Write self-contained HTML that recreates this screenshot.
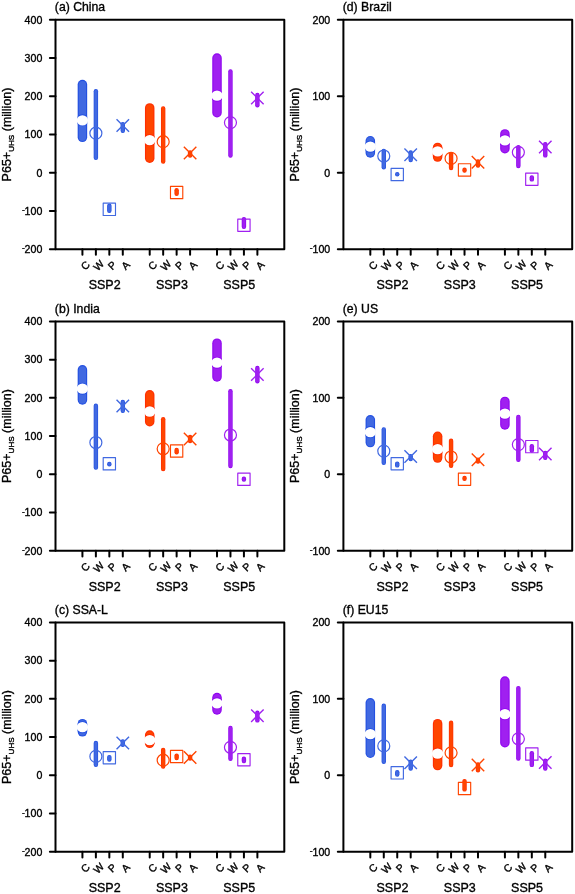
<!DOCTYPE html>
<html><head><meta charset="utf-8"><style>
html,body{margin:0;padding:0;background:#fff;}
body{width:575px;height:894px;overflow:hidden;}
svg{display:block;will-change:transform;}
text{font-family:"Liberation Sans",sans-serif;fill:#000;stroke:#000;stroke-width:0.35px;}
</style></head><body>
<svg width="575" height="894" viewBox="0 0 575 894">
<rect x="55.5" y="19.8" width="228.8" height="229.4" fill="none" stroke="#000" stroke-width="2" stroke-linejoin="round"/>
<line x1="49.9" y1="19.8" x2="55.5" y2="19.8" stroke="#000" stroke-width="2" stroke-linecap="round"/>
<text x="42.3" y="23.65" font-size="10.6" text-anchor="end">400</text>
<line x1="49.9" y1="58.03" x2="55.5" y2="58.03" stroke="#000" stroke-width="2" stroke-linecap="round"/>
<text x="42.3" y="61.88" font-size="10.6" text-anchor="end">300</text>
<line x1="49.9" y1="96.27" x2="55.5" y2="96.27" stroke="#000" stroke-width="2" stroke-linecap="round"/>
<text x="42.3" y="100.12" font-size="10.6" text-anchor="end">200</text>
<line x1="49.9" y1="134.5" x2="55.5" y2="134.5" stroke="#000" stroke-width="2" stroke-linecap="round"/>
<text x="42.3" y="138.35" font-size="10.6" text-anchor="end">100</text>
<line x1="49.9" y1="172.73" x2="55.5" y2="172.73" stroke="#000" stroke-width="2" stroke-linecap="round"/>
<text x="42.3" y="176.58" font-size="10.6" text-anchor="end">0</text>
<line x1="49.9" y1="210.97" x2="55.5" y2="210.97" stroke="#000" stroke-width="2" stroke-linecap="round"/>
<text x="42.3" y="214.82" font-size="10.6" text-anchor="end"><tspan font-size="8.5" dy="-1.9">-</tspan><tspan dy="1.9" dx="-0.2">100</tspan></text>
<line x1="49.9" y1="249.2" x2="55.5" y2="249.2" stroke="#000" stroke-width="2" stroke-linecap="round"/>
<text x="42.3" y="253.05" font-size="10.6" text-anchor="end"><tspan font-size="8.5" dy="-1.9">-</tspan><tspan dy="1.9" dx="-0.2">200</tspan></text>
<line x1="82.42" y1="249.2" x2="82.42" y2="254.8" stroke="#000" stroke-width="2" stroke-linecap="round"/>
<text x="85.02" y="265.2" font-size="10.5" text-anchor="middle" dominant-baseline="central" transform="rotate(-45 85.02 265.2)">C</text>
<line x1="95.88" y1="249.2" x2="95.88" y2="254.8" stroke="#000" stroke-width="2" stroke-linecap="round"/>
<text x="98.48" y="265.2" font-size="10.5" text-anchor="middle" dominant-baseline="central" transform="rotate(-45 98.48 265.2)">W</text>
<line x1="109.34" y1="249.2" x2="109.34" y2="254.8" stroke="#000" stroke-width="2" stroke-linecap="round"/>
<text x="111.94" y="265.2" font-size="10.5" text-anchor="middle" dominant-baseline="central" transform="rotate(-45 111.94 265.2)">P</text>
<line x1="122.79" y1="249.2" x2="122.79" y2="254.8" stroke="#000" stroke-width="2" stroke-linecap="round"/>
<text x="125.39" y="265.2" font-size="10.5" text-anchor="middle" dominant-baseline="central" transform="rotate(-45 125.39 265.2)">A</text>
<text x="104.61" y="289.4" font-size="12.5" text-anchor="middle">SSP2</text>
<line x1="149.71" y1="249.2" x2="149.71" y2="254.8" stroke="#000" stroke-width="2" stroke-linecap="round"/>
<text x="152.31" y="265.2" font-size="10.5" text-anchor="middle" dominant-baseline="central" transform="rotate(-45 152.31 265.2)">C</text>
<line x1="163.17" y1="249.2" x2="163.17" y2="254.8" stroke="#000" stroke-width="2" stroke-linecap="round"/>
<text x="165.77" y="265.2" font-size="10.5" text-anchor="middle" dominant-baseline="central" transform="rotate(-45 165.77 265.2)">W</text>
<line x1="176.63" y1="249.2" x2="176.63" y2="254.8" stroke="#000" stroke-width="2" stroke-linecap="round"/>
<text x="179.23" y="265.2" font-size="10.5" text-anchor="middle" dominant-baseline="central" transform="rotate(-45 179.23 265.2)">P</text>
<line x1="190.09" y1="249.2" x2="190.09" y2="254.8" stroke="#000" stroke-width="2" stroke-linecap="round"/>
<text x="192.69" y="265.2" font-size="10.5" text-anchor="middle" dominant-baseline="central" transform="rotate(-45 192.69 265.2)">A</text>
<text x="171.9" y="289.4" font-size="12.5" text-anchor="middle">SSP3</text>
<line x1="217.01" y1="249.2" x2="217.01" y2="254.8" stroke="#000" stroke-width="2" stroke-linecap="round"/>
<text x="219.61" y="265.2" font-size="10.5" text-anchor="middle" dominant-baseline="central" transform="rotate(-45 219.61 265.2)">C</text>
<line x1="230.46" y1="249.2" x2="230.46" y2="254.8" stroke="#000" stroke-width="2" stroke-linecap="round"/>
<text x="233.06" y="265.2" font-size="10.5" text-anchor="middle" dominant-baseline="central" transform="rotate(-45 233.06 265.2)">W</text>
<line x1="243.92" y1="249.2" x2="243.92" y2="254.8" stroke="#000" stroke-width="2" stroke-linecap="round"/>
<text x="246.52" y="265.2" font-size="10.5" text-anchor="middle" dominant-baseline="central" transform="rotate(-45 246.52 265.2)">P</text>
<line x1="257.38" y1="249.2" x2="257.38" y2="254.8" stroke="#000" stroke-width="2" stroke-linecap="round"/>
<text x="259.98" y="265.2" font-size="10.5" text-anchor="middle" dominant-baseline="central" transform="rotate(-45 259.98 265.2)">A</text>
<text x="239.19" y="289.4" font-size="12.5" text-anchor="middle">SSP5</text>
<text x="54.8" y="11" font-size="12.25">(a) China</text>
<text transform="translate(11 181.4) rotate(-90)" font-size="12.5">P65+<tspan font-size="8.1" dy="3.3">UHS</tspan><tspan dy="-3.3"> (million)</tspan></text>
<line x1="82.42" y1="84.55" x2="82.42" y2="137.35" stroke="#2350E2" stroke-width="9.5" stroke-linecap="round"/>
<line x1="82.42" y1="84.55" x2="82.42" y2="137.35" stroke="#4169E1" stroke-width="7.3" stroke-linecap="round"/>
<clipPath id="c46"><rect x="77.67" y="79.8" width="9.5" height="62.3" rx="4.75"/></clipPath>
<ellipse cx="82.42" cy="120.3" rx="6.6" ry="6.05" fill="#2350E2" clip-path="url(#c46)"/>
<ellipse cx="82.42" cy="120.3" rx="5.7" ry="5.15" fill="#fff"/>
<line x1="95.88" y1="91.2" x2="95.88" y2="157.8" stroke="#2350E2" stroke-width="4.4" stroke-linecap="round"/>
<line x1="95.88" y1="91.2" x2="95.88" y2="157.8" stroke="#4169E1" stroke-width="3.08" stroke-linecap="round"/>
<circle cx="95.88" cy="133.2" r="6" fill="none" stroke="#4169E1" stroke-width="1.2"/>
<line x1="109.34" y1="205.8" x2="109.34" y2="210.8" stroke="#2350E2" stroke-width="4.4" stroke-linecap="round"/>
<line x1="109.34" y1="205.8" x2="109.34" y2="210.8" stroke="#4169E1" stroke-width="3.08" stroke-linecap="round"/>
<rect x="103.19" y="203.15" width="12.3" height="12.3" fill="none" stroke="#4169E1" stroke-width="1.15" stroke-linejoin="round"/>
<line x1="122.79" y1="124.1" x2="122.79" y2="130.8" stroke="#2350E2" stroke-width="4.4" stroke-linecap="round"/>
<line x1="122.79" y1="124.1" x2="122.79" y2="130.8" stroke="#4169E1" stroke-width="3.08" stroke-linecap="round"/>
<path d="M116.54 119.25L129.04 131.75M116.54 131.75L129.04 119.25" stroke="#4169E1" stroke-width="1.4" fill="none"/>
<line x1="149.71" y1="107.95" x2="149.71" y2="158.15" stroke="#FF2E00" stroke-width="9.5" stroke-linecap="round"/>
<line x1="149.71" y1="107.95" x2="149.71" y2="158.15" stroke="#FF4500" stroke-width="7.3" stroke-linecap="round"/>
<clipPath id="c60"><rect x="144.96" y="103.2" width="9.5" height="59.7" rx="4.75"/></clipPath>
<ellipse cx="149.71" cy="140.1" rx="6.6" ry="6.05" fill="#FF2E00" clip-path="url(#c60)"/>
<ellipse cx="149.71" cy="140.1" rx="5.7" ry="5.15" fill="#fff"/>
<line x1="163.17" y1="108.4" x2="163.17" y2="161.6" stroke="#FF2E00" stroke-width="4.4" stroke-linecap="round"/>
<line x1="163.17" y1="108.4" x2="163.17" y2="161.6" stroke="#FF4500" stroke-width="3.08" stroke-linecap="round"/>
<circle cx="163.17" cy="141.7" r="6" fill="none" stroke="#FF4500" stroke-width="1.2"/>
<line x1="176.63" y1="190.2" x2="176.63" y2="193.7" stroke="#FF2E00" stroke-width="4.4" stroke-linecap="round"/>
<line x1="176.63" y1="190.2" x2="176.63" y2="193.7" stroke="#FF4500" stroke-width="3.08" stroke-linecap="round"/>
<rect x="170.48" y="186.35" width="12.3" height="12.3" fill="none" stroke="#FF4500" stroke-width="1.15" stroke-linejoin="round"/>
<line x1="190.09" y1="152.4" x2="190.09" y2="155.6" stroke="#FF2E00" stroke-width="4.4" stroke-linecap="round"/>
<line x1="190.09" y1="152.4" x2="190.09" y2="155.6" stroke="#FF4500" stroke-width="3.08" stroke-linecap="round"/>
<path d="M183.84 146.75L196.34 159.25M183.84 159.25L196.34 146.75" stroke="#FF4500" stroke-width="1.4" fill="none"/>
<line x1="217.01" y1="58.05" x2="217.01" y2="112.75" stroke="#8F05F0" stroke-width="9.5" stroke-linecap="round"/>
<line x1="217.01" y1="58.05" x2="217.01" y2="112.75" stroke="#A020F0" stroke-width="7.3" stroke-linecap="round"/>
<clipPath id="c74"><rect x="212.26" y="53.3" width="9.5" height="64.2" rx="4.75"/></clipPath>
<ellipse cx="217.01" cy="95.7" rx="6.6" ry="6.05" fill="#8F05F0" clip-path="url(#c74)"/>
<ellipse cx="217.01" cy="95.7" rx="5.7" ry="5.15" fill="#fff"/>
<line x1="230.46" y1="71.4" x2="230.46" y2="155.6" stroke="#8F05F0" stroke-width="4.4" stroke-linecap="round"/>
<line x1="230.46" y1="71.4" x2="230.46" y2="155.6" stroke="#A020F0" stroke-width="3.08" stroke-linecap="round"/>
<circle cx="230.46" cy="122.6" r="6" fill="none" stroke="#A020F0" stroke-width="1.2"/>
<line x1="243.92" y1="219.2" x2="243.92" y2="226.7" stroke="#8F05F0" stroke-width="4.4" stroke-linecap="round"/>
<line x1="243.92" y1="219.2" x2="243.92" y2="226.7" stroke="#A020F0" stroke-width="3.08" stroke-linecap="round"/>
<rect x="237.77" y="219.05" width="12.3" height="12.3" fill="none" stroke="#A020F0" stroke-width="1.15" stroke-linejoin="round"/>
<line x1="257.38" y1="94.9" x2="257.38" y2="105.2" stroke="#8F05F0" stroke-width="4.4" stroke-linecap="round"/>
<line x1="257.38" y1="94.9" x2="257.38" y2="105.2" stroke="#A020F0" stroke-width="3.08" stroke-linecap="round"/>
<path d="M251.13 91.75L263.63 104.25M251.13 104.25L263.63 91.75" stroke="#A020F0" stroke-width="1.4" fill="none"/>
<rect x="343.4" y="19.8" width="228.8" height="229.4" fill="none" stroke="#000" stroke-width="2" stroke-linejoin="round"/>
<line x1="337.8" y1="19.8" x2="343.4" y2="19.8" stroke="#000" stroke-width="2" stroke-linecap="round"/>
<text x="330.2" y="23.65" font-size="10.6" text-anchor="end">200</text>
<line x1="337.8" y1="96.27" x2="343.4" y2="96.27" stroke="#000" stroke-width="2" stroke-linecap="round"/>
<text x="330.2" y="100.12" font-size="10.6" text-anchor="end">100</text>
<line x1="337.8" y1="172.73" x2="343.4" y2="172.73" stroke="#000" stroke-width="2" stroke-linecap="round"/>
<text x="330.2" y="176.58" font-size="10.6" text-anchor="end">0</text>
<line x1="337.8" y1="249.2" x2="343.4" y2="249.2" stroke="#000" stroke-width="2" stroke-linecap="round"/>
<text x="330.2" y="253.05" font-size="10.6" text-anchor="end"><tspan font-size="8.5" dy="-1.9">-</tspan><tspan dy="1.9" dx="-0.2">100</tspan></text>
<line x1="370.32" y1="249.2" x2="370.32" y2="254.8" stroke="#000" stroke-width="2" stroke-linecap="round"/>
<text x="372.92" y="265.2" font-size="10.5" text-anchor="middle" dominant-baseline="central" transform="rotate(-45 372.92 265.2)">C</text>
<line x1="383.78" y1="249.2" x2="383.78" y2="254.8" stroke="#000" stroke-width="2" stroke-linecap="round"/>
<text x="386.38" y="265.2" font-size="10.5" text-anchor="middle" dominant-baseline="central" transform="rotate(-45 386.38 265.2)">W</text>
<line x1="397.24" y1="249.2" x2="397.24" y2="254.8" stroke="#000" stroke-width="2" stroke-linecap="round"/>
<text x="399.84" y="265.2" font-size="10.5" text-anchor="middle" dominant-baseline="central" transform="rotate(-45 399.84 265.2)">P</text>
<line x1="410.69" y1="249.2" x2="410.69" y2="254.8" stroke="#000" stroke-width="2" stroke-linecap="round"/>
<text x="413.29" y="265.2" font-size="10.5" text-anchor="middle" dominant-baseline="central" transform="rotate(-45 413.29 265.2)">A</text>
<text x="392.51" y="289.4" font-size="12.5" text-anchor="middle">SSP2</text>
<line x1="437.61" y1="249.2" x2="437.61" y2="254.8" stroke="#000" stroke-width="2" stroke-linecap="round"/>
<text x="440.21" y="265.2" font-size="10.5" text-anchor="middle" dominant-baseline="central" transform="rotate(-45 440.21 265.2)">C</text>
<line x1="451.07" y1="249.2" x2="451.07" y2="254.8" stroke="#000" stroke-width="2" stroke-linecap="round"/>
<text x="453.67" y="265.2" font-size="10.5" text-anchor="middle" dominant-baseline="central" transform="rotate(-45 453.67 265.2)">W</text>
<line x1="464.53" y1="249.2" x2="464.53" y2="254.8" stroke="#000" stroke-width="2" stroke-linecap="round"/>
<text x="467.13" y="265.2" font-size="10.5" text-anchor="middle" dominant-baseline="central" transform="rotate(-45 467.13 265.2)">P</text>
<line x1="477.99" y1="249.2" x2="477.99" y2="254.8" stroke="#000" stroke-width="2" stroke-linecap="round"/>
<text x="480.59" y="265.2" font-size="10.5" text-anchor="middle" dominant-baseline="central" transform="rotate(-45 480.59 265.2)">A</text>
<text x="459.8" y="289.4" font-size="12.5" text-anchor="middle">SSP3</text>
<line x1="504.91" y1="249.2" x2="504.91" y2="254.8" stroke="#000" stroke-width="2" stroke-linecap="round"/>
<text x="507.51" y="265.2" font-size="10.5" text-anchor="middle" dominant-baseline="central" transform="rotate(-45 507.51 265.2)">C</text>
<line x1="518.36" y1="249.2" x2="518.36" y2="254.8" stroke="#000" stroke-width="2" stroke-linecap="round"/>
<text x="520.96" y="265.2" font-size="10.5" text-anchor="middle" dominant-baseline="central" transform="rotate(-45 520.96 265.2)">W</text>
<line x1="531.82" y1="249.2" x2="531.82" y2="254.8" stroke="#000" stroke-width="2" stroke-linecap="round"/>
<text x="534.42" y="265.2" font-size="10.5" text-anchor="middle" dominant-baseline="central" transform="rotate(-45 534.42 265.2)">P</text>
<line x1="545.28" y1="249.2" x2="545.28" y2="254.8" stroke="#000" stroke-width="2" stroke-linecap="round"/>
<text x="547.88" y="265.2" font-size="10.5" text-anchor="middle" dominant-baseline="central" transform="rotate(-45 547.88 265.2)">A</text>
<text x="527.09" y="289.4" font-size="12.5" text-anchor="middle">SSP5</text>
<text x="342.7" y="11" font-size="12.25">(d) Brazil</text>
<text transform="translate(298.9 181.4) rotate(-90)" font-size="12.5">P65+<tspan font-size="8.1" dy="3.3">UHS</tspan><tspan dy="-3.3"> (million)</tspan></text>
<line x1="370.32" y1="140.75" x2="370.32" y2="152.95" stroke="#2350E2" stroke-width="9.5" stroke-linecap="round"/>
<line x1="370.32" y1="140.75" x2="370.32" y2="152.95" stroke="#4169E1" stroke-width="7.3" stroke-linecap="round"/>
<clipPath id="c126"><rect x="365.57" y="136" width="9.5" height="21.7" rx="4.75"/></clipPath>
<ellipse cx="370.32" cy="146.6" rx="6.6" ry="6.05" fill="#2350E2" clip-path="url(#c126)"/>
<ellipse cx="370.32" cy="146.6" rx="5.7" ry="5.15" fill="#fff"/>
<line x1="383.78" y1="151" x2="383.78" y2="167.2" stroke="#2350E2" stroke-width="4.4" stroke-linecap="round"/>
<line x1="383.78" y1="151" x2="383.78" y2="167.2" stroke="#4169E1" stroke-width="3.08" stroke-linecap="round"/>
<circle cx="383.78" cy="156" r="6" fill="none" stroke="#4169E1" stroke-width="1.2"/>
<line x1="397.24" y1="174.3" x2="397.24" y2="174.3" stroke="#2350E2" stroke-width="4.4" stroke-linecap="round"/>
<line x1="397.24" y1="174.3" x2="397.24" y2="174.3" stroke="#4169E1" stroke-width="3.08" stroke-linecap="round"/>
<rect x="391.09" y="168.35" width="12.3" height="12.3" fill="none" stroke="#4169E1" stroke-width="1.15" stroke-linejoin="round"/>
<line x1="410.69" y1="152.5" x2="410.69" y2="160.1" stroke="#2350E2" stroke-width="4.4" stroke-linecap="round"/>
<line x1="410.69" y1="152.5" x2="410.69" y2="160.1" stroke="#4169E1" stroke-width="3.08" stroke-linecap="round"/>
<path d="M404.44 148.55L416.94 161.05M404.44 161.05L416.94 148.55" stroke="#4169E1" stroke-width="1.4" fill="none"/>
<line x1="437.61" y1="147.45" x2="437.61" y2="157.05" stroke="#FF2E00" stroke-width="9.5" stroke-linecap="round"/>
<line x1="437.61" y1="147.45" x2="437.61" y2="157.05" stroke="#FF4500" stroke-width="7.3" stroke-linecap="round"/>
<clipPath id="c140"><rect x="432.86" y="142.7" width="9.5" height="19.1" rx="4.75"/></clipPath>
<ellipse cx="437.61" cy="151.4" rx="6.6" ry="6.05" fill="#FF2E00" clip-path="url(#c140)"/>
<ellipse cx="437.61" cy="151.4" rx="5.7" ry="5.15" fill="#fff"/>
<line x1="451.07" y1="154.1" x2="451.07" y2="168" stroke="#FF2E00" stroke-width="4.4" stroke-linecap="round"/>
<line x1="451.07" y1="154.1" x2="451.07" y2="168" stroke="#FF4500" stroke-width="3.08" stroke-linecap="round"/>
<circle cx="451.07" cy="158.4" r="6" fill="none" stroke="#FF4500" stroke-width="1.2"/>
<line x1="464.53" y1="169.8" x2="464.53" y2="170.6" stroke="#FF2E00" stroke-width="4.4" stroke-linecap="round"/>
<line x1="464.53" y1="169.8" x2="464.53" y2="170.6" stroke="#FF4500" stroke-width="3.08" stroke-linecap="round"/>
<rect x="458.38" y="163.75" width="12.3" height="12.3" fill="none" stroke="#FF4500" stroke-width="1.15" stroke-linejoin="round"/>
<line x1="477.99" y1="161.4" x2="477.99" y2="165.6" stroke="#FF2E00" stroke-width="4.4" stroke-linecap="round"/>
<line x1="477.99" y1="161.4" x2="477.99" y2="165.6" stroke="#FF4500" stroke-width="3.08" stroke-linecap="round"/>
<path d="M471.74 156.05L484.24 168.55M471.74 168.55L484.24 156.05" stroke="#FF4500" stroke-width="1.4" fill="none"/>
<line x1="504.91" y1="133.95" x2="504.91" y2="148.65" stroke="#8F05F0" stroke-width="9.5" stroke-linecap="round"/>
<line x1="504.91" y1="133.95" x2="504.91" y2="148.65" stroke="#A020F0" stroke-width="7.3" stroke-linecap="round"/>
<clipPath id="c154"><rect x="500.16" y="129.2" width="9.5" height="24.2" rx="4.75"/></clipPath>
<ellipse cx="504.91" cy="140.4" rx="6.6" ry="6.05" fill="#8F05F0" clip-path="url(#c154)"/>
<ellipse cx="504.91" cy="140.4" rx="5.7" ry="5.15" fill="#fff"/>
<line x1="518.36" y1="147.2" x2="518.36" y2="166" stroke="#8F05F0" stroke-width="4.4" stroke-linecap="round"/>
<line x1="518.36" y1="147.2" x2="518.36" y2="166" stroke="#A020F0" stroke-width="3.08" stroke-linecap="round"/>
<circle cx="518.36" cy="152.3" r="6" fill="none" stroke="#A020F0" stroke-width="1.2"/>
<line x1="531.82" y1="177.5" x2="531.82" y2="179.4" stroke="#8F05F0" stroke-width="4.4" stroke-linecap="round"/>
<line x1="531.82" y1="177.5" x2="531.82" y2="179.4" stroke="#A020F0" stroke-width="3.08" stroke-linecap="round"/>
<rect x="525.67" y="173.05" width="12.3" height="12.3" fill="none" stroke="#A020F0" stroke-width="1.15" stroke-linejoin="round"/>
<line x1="545.28" y1="144.1" x2="545.28" y2="155.4" stroke="#8F05F0" stroke-width="4.4" stroke-linecap="round"/>
<line x1="545.28" y1="144.1" x2="545.28" y2="155.4" stroke="#A020F0" stroke-width="3.08" stroke-linecap="round"/>
<path d="M539.03 140.85L551.53 153.35M539.03 153.35L551.53 140.85" stroke="#A020F0" stroke-width="1.4" fill="none"/>
<rect x="55.5" y="321.4" width="228.8" height="229.4" fill="none" stroke="#000" stroke-width="2" stroke-linejoin="round"/>
<line x1="49.9" y1="321.4" x2="55.5" y2="321.4" stroke="#000" stroke-width="2" stroke-linecap="round"/>
<text x="42.3" y="325.25" font-size="10.6" text-anchor="end">400</text>
<line x1="49.9" y1="359.63" x2="55.5" y2="359.63" stroke="#000" stroke-width="2" stroke-linecap="round"/>
<text x="42.3" y="363.48" font-size="10.6" text-anchor="end">300</text>
<line x1="49.9" y1="397.87" x2="55.5" y2="397.87" stroke="#000" stroke-width="2" stroke-linecap="round"/>
<text x="42.3" y="401.72" font-size="10.6" text-anchor="end">200</text>
<line x1="49.9" y1="436.1" x2="55.5" y2="436.1" stroke="#000" stroke-width="2" stroke-linecap="round"/>
<text x="42.3" y="439.95" font-size="10.6" text-anchor="end">100</text>
<line x1="49.9" y1="474.33" x2="55.5" y2="474.33" stroke="#000" stroke-width="2" stroke-linecap="round"/>
<text x="42.3" y="478.18" font-size="10.6" text-anchor="end">0</text>
<line x1="49.9" y1="512.57" x2="55.5" y2="512.57" stroke="#000" stroke-width="2" stroke-linecap="round"/>
<text x="42.3" y="516.42" font-size="10.6" text-anchor="end"><tspan font-size="8.5" dy="-1.9">-</tspan><tspan dy="1.9" dx="-0.2">100</tspan></text>
<line x1="49.9" y1="550.8" x2="55.5" y2="550.8" stroke="#000" stroke-width="2" stroke-linecap="round"/>
<text x="42.3" y="554.65" font-size="10.6" text-anchor="end"><tspan font-size="8.5" dy="-1.9">-</tspan><tspan dy="1.9" dx="-0.2">200</tspan></text>
<line x1="82.42" y1="550.8" x2="82.42" y2="556.4" stroke="#000" stroke-width="2" stroke-linecap="round"/>
<text x="85.02" y="566.8" font-size="10.5" text-anchor="middle" dominant-baseline="central" transform="rotate(-45 85.02 566.8)">C</text>
<line x1="95.88" y1="550.8" x2="95.88" y2="556.4" stroke="#000" stroke-width="2" stroke-linecap="round"/>
<text x="98.48" y="566.8" font-size="10.5" text-anchor="middle" dominant-baseline="central" transform="rotate(-45 98.48 566.8)">W</text>
<line x1="109.34" y1="550.8" x2="109.34" y2="556.4" stroke="#000" stroke-width="2" stroke-linecap="round"/>
<text x="111.94" y="566.8" font-size="10.5" text-anchor="middle" dominant-baseline="central" transform="rotate(-45 111.94 566.8)">P</text>
<line x1="122.79" y1="550.8" x2="122.79" y2="556.4" stroke="#000" stroke-width="2" stroke-linecap="round"/>
<text x="125.39" y="566.8" font-size="10.5" text-anchor="middle" dominant-baseline="central" transform="rotate(-45 125.39 566.8)">A</text>
<text x="104.61" y="591" font-size="12.5" text-anchor="middle">SSP2</text>
<line x1="149.71" y1="550.8" x2="149.71" y2="556.4" stroke="#000" stroke-width="2" stroke-linecap="round"/>
<text x="152.31" y="566.8" font-size="10.5" text-anchor="middle" dominant-baseline="central" transform="rotate(-45 152.31 566.8)">C</text>
<line x1="163.17" y1="550.8" x2="163.17" y2="556.4" stroke="#000" stroke-width="2" stroke-linecap="round"/>
<text x="165.77" y="566.8" font-size="10.5" text-anchor="middle" dominant-baseline="central" transform="rotate(-45 165.77 566.8)">W</text>
<line x1="176.63" y1="550.8" x2="176.63" y2="556.4" stroke="#000" stroke-width="2" stroke-linecap="round"/>
<text x="179.23" y="566.8" font-size="10.5" text-anchor="middle" dominant-baseline="central" transform="rotate(-45 179.23 566.8)">P</text>
<line x1="190.09" y1="550.8" x2="190.09" y2="556.4" stroke="#000" stroke-width="2" stroke-linecap="round"/>
<text x="192.69" y="566.8" font-size="10.5" text-anchor="middle" dominant-baseline="central" transform="rotate(-45 192.69 566.8)">A</text>
<text x="171.9" y="591" font-size="12.5" text-anchor="middle">SSP3</text>
<line x1="217.01" y1="550.8" x2="217.01" y2="556.4" stroke="#000" stroke-width="2" stroke-linecap="round"/>
<text x="219.61" y="566.8" font-size="10.5" text-anchor="middle" dominant-baseline="central" transform="rotate(-45 219.61 566.8)">C</text>
<line x1="230.46" y1="550.8" x2="230.46" y2="556.4" stroke="#000" stroke-width="2" stroke-linecap="round"/>
<text x="233.06" y="566.8" font-size="10.5" text-anchor="middle" dominant-baseline="central" transform="rotate(-45 233.06 566.8)">W</text>
<line x1="243.92" y1="550.8" x2="243.92" y2="556.4" stroke="#000" stroke-width="2" stroke-linecap="round"/>
<text x="246.52" y="566.8" font-size="10.5" text-anchor="middle" dominant-baseline="central" transform="rotate(-45 246.52 566.8)">P</text>
<line x1="257.38" y1="550.8" x2="257.38" y2="556.4" stroke="#000" stroke-width="2" stroke-linecap="round"/>
<text x="259.98" y="566.8" font-size="10.5" text-anchor="middle" dominant-baseline="central" transform="rotate(-45 259.98 566.8)">A</text>
<text x="239.19" y="591" font-size="12.5" text-anchor="middle">SSP5</text>
<text x="54.8" y="312.6" font-size="12.25">(b) India</text>
<text transform="translate(11 483) rotate(-90)" font-size="12.5">P65+<tspan font-size="8.1" dy="3.3">UHS</tspan><tspan dy="-3.3"> (million)</tspan></text>
<line x1="82.42" y1="369.85" x2="82.42" y2="399.95" stroke="#2350E2" stroke-width="9.5" stroke-linecap="round"/>
<line x1="82.42" y1="369.85" x2="82.42" y2="399.95" stroke="#4169E1" stroke-width="7.3" stroke-linecap="round"/>
<clipPath id="c212"><rect x="77.67" y="365.1" width="9.5" height="39.6" rx="4.75"/></clipPath>
<ellipse cx="82.42" cy="388.7" rx="6.6" ry="6.05" fill="#2350E2" clip-path="url(#c212)"/>
<ellipse cx="82.42" cy="388.7" rx="5.7" ry="5.15" fill="#fff"/>
<line x1="95.88" y1="405.8" x2="95.88" y2="467.6" stroke="#2350E2" stroke-width="4.4" stroke-linecap="round"/>
<line x1="95.88" y1="405.8" x2="95.88" y2="467.6" stroke="#4169E1" stroke-width="3.08" stroke-linecap="round"/>
<circle cx="95.88" cy="442.5" r="6" fill="none" stroke="#4169E1" stroke-width="1.2"/>
<line x1="109.34" y1="463.9" x2="109.34" y2="464.2" stroke="#2350E2" stroke-width="4.4" stroke-linecap="round"/>
<line x1="109.34" y1="463.9" x2="109.34" y2="464.2" stroke="#4169E1" stroke-width="3.08" stroke-linecap="round"/>
<rect x="103.19" y="457.65" width="12.3" height="12.3" fill="none" stroke="#4169E1" stroke-width="1.15" stroke-linejoin="round"/>
<line x1="122.79" y1="401.9" x2="122.79" y2="410.8" stroke="#2350E2" stroke-width="4.4" stroke-linecap="round"/>
<line x1="122.79" y1="401.9" x2="122.79" y2="410.8" stroke="#4169E1" stroke-width="3.08" stroke-linecap="round"/>
<path d="M116.54 399.65L129.04 412.15M116.54 412.15L129.04 399.65" stroke="#4169E1" stroke-width="1.4" fill="none"/>
<line x1="149.71" y1="394.85" x2="149.71" y2="421.65" stroke="#FF2E00" stroke-width="9.5" stroke-linecap="round"/>
<line x1="149.71" y1="394.85" x2="149.71" y2="421.65" stroke="#FF4500" stroke-width="7.3" stroke-linecap="round"/>
<clipPath id="c226"><rect x="144.96" y="390.1" width="9.5" height="36.3" rx="4.75"/></clipPath>
<ellipse cx="149.71" cy="411.5" rx="6.6" ry="6.05" fill="#FF2E00" clip-path="url(#c226)"/>
<ellipse cx="149.71" cy="411.5" rx="5.7" ry="5.15" fill="#fff"/>
<line x1="163.17" y1="419.3" x2="163.17" y2="469" stroke="#FF2E00" stroke-width="4.4" stroke-linecap="round"/>
<line x1="163.17" y1="419.3" x2="163.17" y2="469" stroke="#FF4500" stroke-width="3.08" stroke-linecap="round"/>
<circle cx="163.17" cy="448.8" r="6" fill="none" stroke="#FF4500" stroke-width="1.2"/>
<line x1="176.63" y1="449.9" x2="176.63" y2="452.2" stroke="#FF2E00" stroke-width="4.4" stroke-linecap="round"/>
<line x1="176.63" y1="449.9" x2="176.63" y2="452.2" stroke="#FF4500" stroke-width="3.08" stroke-linecap="round"/>
<rect x="170.48" y="444.85" width="12.3" height="12.3" fill="none" stroke="#FF4500" stroke-width="1.15" stroke-linejoin="round"/>
<line x1="190.09" y1="437" x2="190.09" y2="441" stroke="#FF2E00" stroke-width="4.4" stroke-linecap="round"/>
<line x1="190.09" y1="437" x2="190.09" y2="441" stroke="#FF4500" stroke-width="3.08" stroke-linecap="round"/>
<path d="M183.84 432.75L196.34 445.25M183.84 445.25L196.34 432.75" stroke="#FF4500" stroke-width="1.4" fill="none"/>
<line x1="217.01" y1="343.15" x2="217.01" y2="376.95" stroke="#8F05F0" stroke-width="9.5" stroke-linecap="round"/>
<line x1="217.01" y1="343.15" x2="217.01" y2="376.95" stroke="#A020F0" stroke-width="7.3" stroke-linecap="round"/>
<clipPath id="c240"><rect x="212.26" y="338.4" width="9.5" height="43.3" rx="4.75"/></clipPath>
<ellipse cx="217.01" cy="362.7" rx="6.6" ry="6.05" fill="#8F05F0" clip-path="url(#c240)"/>
<ellipse cx="217.01" cy="362.7" rx="5.7" ry="5.15" fill="#fff"/>
<line x1="230.46" y1="391.3" x2="230.46" y2="466" stroke="#8F05F0" stroke-width="4.4" stroke-linecap="round"/>
<line x1="230.46" y1="391.3" x2="230.46" y2="466" stroke="#A020F0" stroke-width="3.08" stroke-linecap="round"/>
<circle cx="230.46" cy="435" r="6" fill="none" stroke="#A020F0" stroke-width="1.2"/>
<line x1="243.92" y1="478.8" x2="243.92" y2="479.5" stroke="#8F05F0" stroke-width="4.4" stroke-linecap="round"/>
<line x1="243.92" y1="478.8" x2="243.92" y2="479.5" stroke="#A020F0" stroke-width="3.08" stroke-linecap="round"/>
<rect x="237.77" y="473.15" width="12.3" height="12.3" fill="none" stroke="#A020F0" stroke-width="1.15" stroke-linejoin="round"/>
<line x1="257.38" y1="368" x2="257.38" y2="381.3" stroke="#8F05F0" stroke-width="4.4" stroke-linecap="round"/>
<line x1="257.38" y1="368" x2="257.38" y2="381.3" stroke="#A020F0" stroke-width="3.08" stroke-linecap="round"/>
<path d="M251.13 368.25L263.63 380.75M251.13 380.75L263.63 368.25" stroke="#A020F0" stroke-width="1.4" fill="none"/>
<rect x="343.4" y="321.4" width="228.8" height="229.4" fill="none" stroke="#000" stroke-width="2" stroke-linejoin="round"/>
<line x1="337.8" y1="321.4" x2="343.4" y2="321.4" stroke="#000" stroke-width="2" stroke-linecap="round"/>
<text x="330.2" y="325.25" font-size="10.6" text-anchor="end">200</text>
<line x1="337.8" y1="397.87" x2="343.4" y2="397.87" stroke="#000" stroke-width="2" stroke-linecap="round"/>
<text x="330.2" y="401.72" font-size="10.6" text-anchor="end">100</text>
<line x1="337.8" y1="474.33" x2="343.4" y2="474.33" stroke="#000" stroke-width="2" stroke-linecap="round"/>
<text x="330.2" y="478.18" font-size="10.6" text-anchor="end">0</text>
<line x1="337.8" y1="550.8" x2="343.4" y2="550.8" stroke="#000" stroke-width="2" stroke-linecap="round"/>
<text x="330.2" y="554.65" font-size="10.6" text-anchor="end"><tspan font-size="8.5" dy="-1.9">-</tspan><tspan dy="1.9" dx="-0.2">100</tspan></text>
<line x1="370.32" y1="550.8" x2="370.32" y2="556.4" stroke="#000" stroke-width="2" stroke-linecap="round"/>
<text x="372.92" y="566.8" font-size="10.5" text-anchor="middle" dominant-baseline="central" transform="rotate(-45 372.92 566.8)">C</text>
<line x1="383.78" y1="550.8" x2="383.78" y2="556.4" stroke="#000" stroke-width="2" stroke-linecap="round"/>
<text x="386.38" y="566.8" font-size="10.5" text-anchor="middle" dominant-baseline="central" transform="rotate(-45 386.38 566.8)">W</text>
<line x1="397.24" y1="550.8" x2="397.24" y2="556.4" stroke="#000" stroke-width="2" stroke-linecap="round"/>
<text x="399.84" y="566.8" font-size="10.5" text-anchor="middle" dominant-baseline="central" transform="rotate(-45 399.84 566.8)">P</text>
<line x1="410.69" y1="550.8" x2="410.69" y2="556.4" stroke="#000" stroke-width="2" stroke-linecap="round"/>
<text x="413.29" y="566.8" font-size="10.5" text-anchor="middle" dominant-baseline="central" transform="rotate(-45 413.29 566.8)">A</text>
<text x="392.51" y="591" font-size="12.5" text-anchor="middle">SSP2</text>
<line x1="437.61" y1="550.8" x2="437.61" y2="556.4" stroke="#000" stroke-width="2" stroke-linecap="round"/>
<text x="440.21" y="566.8" font-size="10.5" text-anchor="middle" dominant-baseline="central" transform="rotate(-45 440.21 566.8)">C</text>
<line x1="451.07" y1="550.8" x2="451.07" y2="556.4" stroke="#000" stroke-width="2" stroke-linecap="round"/>
<text x="453.67" y="566.8" font-size="10.5" text-anchor="middle" dominant-baseline="central" transform="rotate(-45 453.67 566.8)">W</text>
<line x1="464.53" y1="550.8" x2="464.53" y2="556.4" stroke="#000" stroke-width="2" stroke-linecap="round"/>
<text x="467.13" y="566.8" font-size="10.5" text-anchor="middle" dominant-baseline="central" transform="rotate(-45 467.13 566.8)">P</text>
<line x1="477.99" y1="550.8" x2="477.99" y2="556.4" stroke="#000" stroke-width="2" stroke-linecap="round"/>
<text x="480.59" y="566.8" font-size="10.5" text-anchor="middle" dominant-baseline="central" transform="rotate(-45 480.59 566.8)">A</text>
<text x="459.8" y="591" font-size="12.5" text-anchor="middle">SSP3</text>
<line x1="504.91" y1="550.8" x2="504.91" y2="556.4" stroke="#000" stroke-width="2" stroke-linecap="round"/>
<text x="507.51" y="566.8" font-size="10.5" text-anchor="middle" dominant-baseline="central" transform="rotate(-45 507.51 566.8)">C</text>
<line x1="518.36" y1="550.8" x2="518.36" y2="556.4" stroke="#000" stroke-width="2" stroke-linecap="round"/>
<text x="520.96" y="566.8" font-size="10.5" text-anchor="middle" dominant-baseline="central" transform="rotate(-45 520.96 566.8)">W</text>
<line x1="531.82" y1="550.8" x2="531.82" y2="556.4" stroke="#000" stroke-width="2" stroke-linecap="round"/>
<text x="534.42" y="566.8" font-size="10.5" text-anchor="middle" dominant-baseline="central" transform="rotate(-45 534.42 566.8)">P</text>
<line x1="545.28" y1="550.8" x2="545.28" y2="556.4" stroke="#000" stroke-width="2" stroke-linecap="round"/>
<text x="547.88" y="566.8" font-size="10.5" text-anchor="middle" dominant-baseline="central" transform="rotate(-45 547.88 566.8)">A</text>
<text x="527.09" y="591" font-size="12.5" text-anchor="middle">SSP5</text>
<text x="342.7" y="312.6" font-size="12.25">(e) US</text>
<text transform="translate(298.9 483) rotate(-90)" font-size="12.5">P65+<tspan font-size="8.1" dy="3.3">UHS</tspan><tspan dy="-3.3"> (million)</tspan></text>
<line x1="370.32" y1="419.85" x2="370.32" y2="442.55" stroke="#2350E2" stroke-width="9.5" stroke-linecap="round"/>
<line x1="370.32" y1="419.85" x2="370.32" y2="442.55" stroke="#4169E1" stroke-width="7.3" stroke-linecap="round"/>
<clipPath id="c292"><rect x="365.57" y="415.1" width="9.5" height="32.2" rx="4.75"/></clipPath>
<ellipse cx="370.32" cy="432.1" rx="6.6" ry="6.05" fill="#2350E2" clip-path="url(#c292)"/>
<ellipse cx="370.32" cy="432.1" rx="5.7" ry="5.15" fill="#fff"/>
<line x1="383.78" y1="429.4" x2="383.78" y2="462.8" stroke="#2350E2" stroke-width="4.4" stroke-linecap="round"/>
<line x1="383.78" y1="429.4" x2="383.78" y2="462.8" stroke="#4169E1" stroke-width="3.08" stroke-linecap="round"/>
<circle cx="383.78" cy="451.1" r="6" fill="none" stroke="#4169E1" stroke-width="1.2"/>
<line x1="397.24" y1="463.6" x2="397.24" y2="465.4" stroke="#2350E2" stroke-width="4.4" stroke-linecap="round"/>
<line x1="397.24" y1="463.6" x2="397.24" y2="465.4" stroke="#4169E1" stroke-width="3.08" stroke-linecap="round"/>
<rect x="391.09" y="457.55" width="12.3" height="12.3" fill="none" stroke="#4169E1" stroke-width="1.15" stroke-linejoin="round"/>
<line x1="410.69" y1="456.2" x2="410.69" y2="459.1" stroke="#2350E2" stroke-width="4.4" stroke-linecap="round"/>
<line x1="410.69" y1="456.2" x2="410.69" y2="459.1" stroke="#4169E1" stroke-width="3.08" stroke-linecap="round"/>
<path d="M404.44 450.25L416.94 462.75M404.44 462.75L416.94 450.25" stroke="#4169E1" stroke-width="1.4" fill="none"/>
<line x1="437.61" y1="436.25" x2="437.61" y2="458.05" stroke="#FF2E00" stroke-width="9.5" stroke-linecap="round"/>
<line x1="437.61" y1="436.25" x2="437.61" y2="458.05" stroke="#FF4500" stroke-width="7.3" stroke-linecap="round"/>
<clipPath id="c306"><rect x="432.86" y="431.5" width="9.5" height="31.3" rx="4.75"/></clipPath>
<ellipse cx="437.61" cy="449.2" rx="6.6" ry="6.05" fill="#FF2E00" clip-path="url(#c306)"/>
<ellipse cx="437.61" cy="449.2" rx="5.7" ry="5.15" fill="#fff"/>
<line x1="451.07" y1="440.8" x2="451.07" y2="465.8" stroke="#FF2E00" stroke-width="4.4" stroke-linecap="round"/>
<line x1="451.07" y1="440.8" x2="451.07" y2="465.8" stroke="#FF4500" stroke-width="3.08" stroke-linecap="round"/>
<circle cx="451.07" cy="457" r="6" fill="none" stroke="#FF4500" stroke-width="1.2"/>
<line x1="464.53" y1="478" x2="464.53" y2="478.8" stroke="#FF2E00" stroke-width="4.4" stroke-linecap="round"/>
<line x1="464.53" y1="478" x2="464.53" y2="478.8" stroke="#FF4500" stroke-width="3.08" stroke-linecap="round"/>
<rect x="458.38" y="473.05" width="12.3" height="12.3" fill="none" stroke="#FF4500" stroke-width="1.15" stroke-linejoin="round"/>
<line x1="477.99" y1="459.8" x2="477.99" y2="461.6" stroke="#FF2E00" stroke-width="4.4" stroke-linecap="round"/>
<line x1="477.99" y1="459.8" x2="477.99" y2="461.6" stroke="#FF4500" stroke-width="3.08" stroke-linecap="round"/>
<path d="M471.74 453.45L484.24 465.95M471.74 465.95L484.24 453.45" stroke="#FF4500" stroke-width="1.4" fill="none"/>
<line x1="504.91" y1="401.45" x2="504.91" y2="424.95" stroke="#8F05F0" stroke-width="9.5" stroke-linecap="round"/>
<line x1="504.91" y1="401.45" x2="504.91" y2="424.95" stroke="#A020F0" stroke-width="7.3" stroke-linecap="round"/>
<clipPath id="c320"><rect x="500.16" y="396.7" width="9.5" height="33" rx="4.75"/></clipPath>
<ellipse cx="504.91" cy="413.7" rx="6.6" ry="6.05" fill="#8F05F0" clip-path="url(#c320)"/>
<ellipse cx="504.91" cy="413.7" rx="5.7" ry="5.15" fill="#fff"/>
<line x1="518.36" y1="416.9" x2="518.36" y2="459.8" stroke="#8F05F0" stroke-width="4.4" stroke-linecap="round"/>
<line x1="518.36" y1="416.9" x2="518.36" y2="459.8" stroke="#A020F0" stroke-width="3.08" stroke-linecap="round"/>
<circle cx="518.36" cy="444.6" r="6" fill="none" stroke="#A020F0" stroke-width="1.2"/>
<line x1="531.82" y1="446.2" x2="531.82" y2="450.6" stroke="#8F05F0" stroke-width="4.4" stroke-linecap="round"/>
<line x1="531.82" y1="446.2" x2="531.82" y2="450.6" stroke="#A020F0" stroke-width="3.08" stroke-linecap="round"/>
<rect x="525.67" y="440.45" width="12.3" height="12.3" fill="none" stroke="#A020F0" stroke-width="1.15" stroke-linejoin="round"/>
<line x1="545.28" y1="452.9" x2="545.28" y2="457.7" stroke="#8F05F0" stroke-width="4.4" stroke-linecap="round"/>
<line x1="545.28" y1="452.9" x2="545.28" y2="457.7" stroke="#A020F0" stroke-width="3.08" stroke-linecap="round"/>
<path d="M539.03 447.85L551.53 460.35M539.03 460.35L551.53 447.85" stroke="#A020F0" stroke-width="1.4" fill="none"/>
<rect x="55.5" y="622.4" width="228.8" height="229.4" fill="none" stroke="#000" stroke-width="2" stroke-linejoin="round"/>
<line x1="49.9" y1="622.4" x2="55.5" y2="622.4" stroke="#000" stroke-width="2" stroke-linecap="round"/>
<text x="42.3" y="626.25" font-size="10.6" text-anchor="end">400</text>
<line x1="49.9" y1="660.63" x2="55.5" y2="660.63" stroke="#000" stroke-width="2" stroke-linecap="round"/>
<text x="42.3" y="664.48" font-size="10.6" text-anchor="end">300</text>
<line x1="49.9" y1="698.87" x2="55.5" y2="698.87" stroke="#000" stroke-width="2" stroke-linecap="round"/>
<text x="42.3" y="702.72" font-size="10.6" text-anchor="end">200</text>
<line x1="49.9" y1="737.1" x2="55.5" y2="737.1" stroke="#000" stroke-width="2" stroke-linecap="round"/>
<text x="42.3" y="740.95" font-size="10.6" text-anchor="end">100</text>
<line x1="49.9" y1="775.33" x2="55.5" y2="775.33" stroke="#000" stroke-width="2" stroke-linecap="round"/>
<text x="42.3" y="779.18" font-size="10.6" text-anchor="end">0</text>
<line x1="49.9" y1="813.57" x2="55.5" y2="813.57" stroke="#000" stroke-width="2" stroke-linecap="round"/>
<text x="42.3" y="817.42" font-size="10.6" text-anchor="end"><tspan font-size="8.5" dy="-1.9">-</tspan><tspan dy="1.9" dx="-0.2">100</tspan></text>
<line x1="49.9" y1="851.8" x2="55.5" y2="851.8" stroke="#000" stroke-width="2" stroke-linecap="round"/>
<text x="42.3" y="855.65" font-size="10.6" text-anchor="end"><tspan font-size="8.5" dy="-1.9">-</tspan><tspan dy="1.9" dx="-0.2">200</tspan></text>
<line x1="82.42" y1="851.8" x2="82.42" y2="857.4" stroke="#000" stroke-width="2" stroke-linecap="round"/>
<text x="85.02" y="867.8" font-size="10.5" text-anchor="middle" dominant-baseline="central" transform="rotate(-45 85.02 867.8)">C</text>
<line x1="95.88" y1="851.8" x2="95.88" y2="857.4" stroke="#000" stroke-width="2" stroke-linecap="round"/>
<text x="98.48" y="867.8" font-size="10.5" text-anchor="middle" dominant-baseline="central" transform="rotate(-45 98.48 867.8)">W</text>
<line x1="109.34" y1="851.8" x2="109.34" y2="857.4" stroke="#000" stroke-width="2" stroke-linecap="round"/>
<text x="111.94" y="867.8" font-size="10.5" text-anchor="middle" dominant-baseline="central" transform="rotate(-45 111.94 867.8)">P</text>
<line x1="122.79" y1="851.8" x2="122.79" y2="857.4" stroke="#000" stroke-width="2" stroke-linecap="round"/>
<text x="125.39" y="867.8" font-size="10.5" text-anchor="middle" dominant-baseline="central" transform="rotate(-45 125.39 867.8)">A</text>
<text x="104.61" y="892" font-size="12.5" text-anchor="middle">SSP2</text>
<line x1="149.71" y1="851.8" x2="149.71" y2="857.4" stroke="#000" stroke-width="2" stroke-linecap="round"/>
<text x="152.31" y="867.8" font-size="10.5" text-anchor="middle" dominant-baseline="central" transform="rotate(-45 152.31 867.8)">C</text>
<line x1="163.17" y1="851.8" x2="163.17" y2="857.4" stroke="#000" stroke-width="2" stroke-linecap="round"/>
<text x="165.77" y="867.8" font-size="10.5" text-anchor="middle" dominant-baseline="central" transform="rotate(-45 165.77 867.8)">W</text>
<line x1="176.63" y1="851.8" x2="176.63" y2="857.4" stroke="#000" stroke-width="2" stroke-linecap="round"/>
<text x="179.23" y="867.8" font-size="10.5" text-anchor="middle" dominant-baseline="central" transform="rotate(-45 179.23 867.8)">P</text>
<line x1="190.09" y1="851.8" x2="190.09" y2="857.4" stroke="#000" stroke-width="2" stroke-linecap="round"/>
<text x="192.69" y="867.8" font-size="10.5" text-anchor="middle" dominant-baseline="central" transform="rotate(-45 192.69 867.8)">A</text>
<text x="171.9" y="892" font-size="12.5" text-anchor="middle">SSP3</text>
<line x1="217.01" y1="851.8" x2="217.01" y2="857.4" stroke="#000" stroke-width="2" stroke-linecap="round"/>
<text x="219.61" y="867.8" font-size="10.5" text-anchor="middle" dominant-baseline="central" transform="rotate(-45 219.61 867.8)">C</text>
<line x1="230.46" y1="851.8" x2="230.46" y2="857.4" stroke="#000" stroke-width="2" stroke-linecap="round"/>
<text x="233.06" y="867.8" font-size="10.5" text-anchor="middle" dominant-baseline="central" transform="rotate(-45 233.06 867.8)">W</text>
<line x1="243.92" y1="851.8" x2="243.92" y2="857.4" stroke="#000" stroke-width="2" stroke-linecap="round"/>
<text x="246.52" y="867.8" font-size="10.5" text-anchor="middle" dominant-baseline="central" transform="rotate(-45 246.52 867.8)">P</text>
<line x1="257.38" y1="851.8" x2="257.38" y2="857.4" stroke="#000" stroke-width="2" stroke-linecap="round"/>
<text x="259.98" y="867.8" font-size="10.5" text-anchor="middle" dominant-baseline="central" transform="rotate(-45 259.98 867.8)">A</text>
<text x="239.19" y="892" font-size="12.5" text-anchor="middle">SSP5</text>
<text x="54.8" y="613.6" font-size="12.25">(c) SSA-L</text>
<text transform="translate(11 784) rotate(-90)" font-size="12.5">P65+<tspan font-size="8.1" dy="3.3">UHS</tspan><tspan dy="-3.3"> (million)</tspan></text>
<line x1="82.42" y1="723.65" x2="82.42" y2="731.85" stroke="#2350E2" stroke-width="9.5" stroke-linecap="round"/>
<line x1="82.42" y1="723.65" x2="82.42" y2="731.85" stroke="#4169E1" stroke-width="7.3" stroke-linecap="round"/>
<clipPath id="c378"><rect x="77.67" y="718.9" width="9.5" height="17.7" rx="4.75"/></clipPath>
<ellipse cx="82.42" cy="727.2" rx="6.6" ry="6.05" fill="#2350E2" clip-path="url(#c378)"/>
<ellipse cx="82.42" cy="727.2" rx="5.7" ry="5.15" fill="#fff"/>
<line x1="95.88" y1="743" x2="95.88" y2="764.7" stroke="#2350E2" stroke-width="4.4" stroke-linecap="round"/>
<line x1="95.88" y1="743" x2="95.88" y2="764.7" stroke="#4169E1" stroke-width="3.08" stroke-linecap="round"/>
<circle cx="95.88" cy="756.4" r="6" fill="none" stroke="#4169E1" stroke-width="1.2"/>
<line x1="109.34" y1="757.1" x2="109.34" y2="759.5" stroke="#2350E2" stroke-width="4.4" stroke-linecap="round"/>
<line x1="109.34" y1="757.1" x2="109.34" y2="759.5" stroke="#4169E1" stroke-width="3.08" stroke-linecap="round"/>
<rect x="103.19" y="751.55" width="12.3" height="12.3" fill="none" stroke="#4169E1" stroke-width="1.15" stroke-linejoin="round"/>
<line x1="122.79" y1="741.4" x2="122.79" y2="744.8" stroke="#2350E2" stroke-width="4.4" stroke-linecap="round"/>
<line x1="122.79" y1="741.4" x2="122.79" y2="744.8" stroke="#4169E1" stroke-width="3.08" stroke-linecap="round"/>
<path d="M116.54 736.65L129.04 749.15M116.54 749.15L129.04 736.65" stroke="#4169E1" stroke-width="1.4" fill="none"/>
<line x1="149.71" y1="735.1" x2="149.71" y2="743.35" stroke="#FF2E00" stroke-width="9.5" stroke-linecap="round"/>
<line x1="149.71" y1="735.1" x2="149.71" y2="743.35" stroke="#FF4500" stroke-width="7.3" stroke-linecap="round"/>
<clipPath id="c392"><rect x="144.96" y="730.35" width="9.5" height="17.75" rx="4.75"/></clipPath>
<ellipse cx="149.71" cy="740.1" rx="6.6" ry="6.05" fill="#FF2E00" clip-path="url(#c392)"/>
<ellipse cx="149.71" cy="740.1" rx="5.7" ry="5.15" fill="#fff"/>
<line x1="163.17" y1="749.9" x2="163.17" y2="766.6" stroke="#FF2E00" stroke-width="4.4" stroke-linecap="round"/>
<line x1="163.17" y1="749.9" x2="163.17" y2="766.6" stroke="#FF4500" stroke-width="3.08" stroke-linecap="round"/>
<circle cx="163.17" cy="760.2" r="6" fill="none" stroke="#FF4500" stroke-width="1.2"/>
<line x1="176.63" y1="755.6" x2="176.63" y2="758" stroke="#FF2E00" stroke-width="4.4" stroke-linecap="round"/>
<line x1="176.63" y1="755.6" x2="176.63" y2="758" stroke="#FF4500" stroke-width="3.08" stroke-linecap="round"/>
<rect x="170.48" y="750.35" width="12.3" height="12.3" fill="none" stroke="#FF4500" stroke-width="1.15" stroke-linejoin="round"/>
<line x1="190.09" y1="756.6" x2="190.09" y2="758.5" stroke="#FF2E00" stroke-width="4.4" stroke-linecap="round"/>
<line x1="190.09" y1="756.6" x2="190.09" y2="758.5" stroke="#FF4500" stroke-width="3.08" stroke-linecap="round"/>
<path d="M183.84 751.25L196.34 763.75M183.84 763.75L196.34 751.25" stroke="#FF4500" stroke-width="1.4" fill="none"/>
<line x1="217.01" y1="697.55" x2="217.01" y2="709.95" stroke="#8F05F0" stroke-width="9.5" stroke-linecap="round"/>
<line x1="217.01" y1="697.55" x2="217.01" y2="709.95" stroke="#A020F0" stroke-width="7.3" stroke-linecap="round"/>
<clipPath id="c406"><rect x="212.26" y="692.8" width="9.5" height="21.9" rx="4.75"/></clipPath>
<ellipse cx="217.01" cy="703.3" rx="6.6" ry="6.05" fill="#8F05F0" clip-path="url(#c406)"/>
<ellipse cx="217.01" cy="703.3" rx="5.7" ry="5.15" fill="#fff"/>
<line x1="230.46" y1="727.9" x2="230.46" y2="758.8" stroke="#8F05F0" stroke-width="4.4" stroke-linecap="round"/>
<line x1="230.46" y1="727.9" x2="230.46" y2="758.8" stroke="#A020F0" stroke-width="3.08" stroke-linecap="round"/>
<circle cx="230.46" cy="747.3" r="6" fill="none" stroke="#A020F0" stroke-width="1.2"/>
<line x1="243.92" y1="758.7" x2="243.92" y2="761.1" stroke="#8F05F0" stroke-width="4.4" stroke-linecap="round"/>
<line x1="243.92" y1="758.7" x2="243.92" y2="761.1" stroke="#A020F0" stroke-width="3.08" stroke-linecap="round"/>
<rect x="237.77" y="753.55" width="12.3" height="12.3" fill="none" stroke="#A020F0" stroke-width="1.15" stroke-linejoin="round"/>
<line x1="257.38" y1="712.8" x2="257.38" y2="720.4" stroke="#8F05F0" stroke-width="4.4" stroke-linecap="round"/>
<line x1="257.38" y1="712.8" x2="257.38" y2="720.4" stroke="#A020F0" stroke-width="3.08" stroke-linecap="round"/>
<path d="M251.13 709.45L263.63 721.95M251.13 721.95L263.63 709.45" stroke="#A020F0" stroke-width="1.4" fill="none"/>
<rect x="343.4" y="622.4" width="228.8" height="229.4" fill="none" stroke="#000" stroke-width="2" stroke-linejoin="round"/>
<line x1="337.8" y1="622.4" x2="343.4" y2="622.4" stroke="#000" stroke-width="2" stroke-linecap="round"/>
<text x="330.2" y="626.25" font-size="10.6" text-anchor="end">200</text>
<line x1="337.8" y1="698.87" x2="343.4" y2="698.87" stroke="#000" stroke-width="2" stroke-linecap="round"/>
<text x="330.2" y="702.72" font-size="10.6" text-anchor="end">100</text>
<line x1="337.8" y1="775.33" x2="343.4" y2="775.33" stroke="#000" stroke-width="2" stroke-linecap="round"/>
<text x="330.2" y="779.18" font-size="10.6" text-anchor="end">0</text>
<line x1="337.8" y1="851.8" x2="343.4" y2="851.8" stroke="#000" stroke-width="2" stroke-linecap="round"/>
<text x="330.2" y="855.65" font-size="10.6" text-anchor="end"><tspan font-size="8.5" dy="-1.9">-</tspan><tspan dy="1.9" dx="-0.2">100</tspan></text>
<line x1="370.32" y1="851.8" x2="370.32" y2="857.4" stroke="#000" stroke-width="2" stroke-linecap="round"/>
<text x="372.92" y="867.8" font-size="10.5" text-anchor="middle" dominant-baseline="central" transform="rotate(-45 372.92 867.8)">C</text>
<line x1="383.78" y1="851.8" x2="383.78" y2="857.4" stroke="#000" stroke-width="2" stroke-linecap="round"/>
<text x="386.38" y="867.8" font-size="10.5" text-anchor="middle" dominant-baseline="central" transform="rotate(-45 386.38 867.8)">W</text>
<line x1="397.24" y1="851.8" x2="397.24" y2="857.4" stroke="#000" stroke-width="2" stroke-linecap="round"/>
<text x="399.84" y="867.8" font-size="10.5" text-anchor="middle" dominant-baseline="central" transform="rotate(-45 399.84 867.8)">P</text>
<line x1="410.69" y1="851.8" x2="410.69" y2="857.4" stroke="#000" stroke-width="2" stroke-linecap="round"/>
<text x="413.29" y="867.8" font-size="10.5" text-anchor="middle" dominant-baseline="central" transform="rotate(-45 413.29 867.8)">A</text>
<text x="392.51" y="892" font-size="12.5" text-anchor="middle">SSP2</text>
<line x1="437.61" y1="851.8" x2="437.61" y2="857.4" stroke="#000" stroke-width="2" stroke-linecap="round"/>
<text x="440.21" y="867.8" font-size="10.5" text-anchor="middle" dominant-baseline="central" transform="rotate(-45 440.21 867.8)">C</text>
<line x1="451.07" y1="851.8" x2="451.07" y2="857.4" stroke="#000" stroke-width="2" stroke-linecap="round"/>
<text x="453.67" y="867.8" font-size="10.5" text-anchor="middle" dominant-baseline="central" transform="rotate(-45 453.67 867.8)">W</text>
<line x1="464.53" y1="851.8" x2="464.53" y2="857.4" stroke="#000" stroke-width="2" stroke-linecap="round"/>
<text x="467.13" y="867.8" font-size="10.5" text-anchor="middle" dominant-baseline="central" transform="rotate(-45 467.13 867.8)">P</text>
<line x1="477.99" y1="851.8" x2="477.99" y2="857.4" stroke="#000" stroke-width="2" stroke-linecap="round"/>
<text x="480.59" y="867.8" font-size="10.5" text-anchor="middle" dominant-baseline="central" transform="rotate(-45 480.59 867.8)">A</text>
<text x="459.8" y="892" font-size="12.5" text-anchor="middle">SSP3</text>
<line x1="504.91" y1="851.8" x2="504.91" y2="857.4" stroke="#000" stroke-width="2" stroke-linecap="round"/>
<text x="507.51" y="867.8" font-size="10.5" text-anchor="middle" dominant-baseline="central" transform="rotate(-45 507.51 867.8)">C</text>
<line x1="518.36" y1="851.8" x2="518.36" y2="857.4" stroke="#000" stroke-width="2" stroke-linecap="round"/>
<text x="520.96" y="867.8" font-size="10.5" text-anchor="middle" dominant-baseline="central" transform="rotate(-45 520.96 867.8)">W</text>
<line x1="531.82" y1="851.8" x2="531.82" y2="857.4" stroke="#000" stroke-width="2" stroke-linecap="round"/>
<text x="534.42" y="867.8" font-size="10.5" text-anchor="middle" dominant-baseline="central" transform="rotate(-45 534.42 867.8)">P</text>
<line x1="545.28" y1="851.8" x2="545.28" y2="857.4" stroke="#000" stroke-width="2" stroke-linecap="round"/>
<text x="547.88" y="867.8" font-size="10.5" text-anchor="middle" dominant-baseline="central" transform="rotate(-45 547.88 867.8)">A</text>
<text x="527.09" y="892" font-size="12.5" text-anchor="middle">SSP5</text>
<text x="342.7" y="613.6" font-size="12.25">(f) EU15</text>
<text transform="translate(298.9 784) rotate(-90)" font-size="12.5">P65+<tspan font-size="8.1" dy="3.3">UHS</tspan><tspan dy="-3.3"> (million)</tspan></text>
<line x1="370.32" y1="702.85" x2="370.32" y2="753.25" stroke="#2350E2" stroke-width="9.5" stroke-linecap="round"/>
<line x1="370.32" y1="702.85" x2="370.32" y2="753.25" stroke="#4169E1" stroke-width="7.3" stroke-linecap="round"/>
<clipPath id="c458"><rect x="365.57" y="698.1" width="9.5" height="59.9" rx="4.75"/></clipPath>
<ellipse cx="370.32" cy="734.2" rx="6.6" ry="6.05" fill="#2350E2" clip-path="url(#c458)"/>
<ellipse cx="370.32" cy="734.2" rx="5.7" ry="5.15" fill="#fff"/>
<line x1="383.78" y1="705.8" x2="383.78" y2="761.8" stroke="#2350E2" stroke-width="4.4" stroke-linecap="round"/>
<line x1="383.78" y1="705.8" x2="383.78" y2="761.8" stroke="#4169E1" stroke-width="3.08" stroke-linecap="round"/>
<circle cx="383.78" cy="745.9" r="6" fill="none" stroke="#4169E1" stroke-width="1.2"/>
<line x1="397.24" y1="772.2" x2="397.24" y2="774.5" stroke="#2350E2" stroke-width="4.4" stroke-linecap="round"/>
<line x1="397.24" y1="772.2" x2="397.24" y2="774.5" stroke="#4169E1" stroke-width="3.08" stroke-linecap="round"/>
<rect x="391.09" y="766.65" width="12.3" height="12.3" fill="none" stroke="#4169E1" stroke-width="1.15" stroke-linejoin="round"/>
<line x1="410.69" y1="761.6" x2="410.69" y2="768.6" stroke="#2350E2" stroke-width="4.4" stroke-linecap="round"/>
<line x1="410.69" y1="761.6" x2="410.69" y2="768.6" stroke="#4169E1" stroke-width="3.08" stroke-linecap="round"/>
<path d="M404.44 756.45L416.94 768.95M404.44 768.95L416.94 756.45" stroke="#4169E1" stroke-width="1.4" fill="none"/>
<line x1="437.61" y1="723.65" x2="437.61" y2="765.55" stroke="#FF2E00" stroke-width="9.5" stroke-linecap="round"/>
<line x1="437.61" y1="723.65" x2="437.61" y2="765.55" stroke="#FF4500" stroke-width="7.3" stroke-linecap="round"/>
<clipPath id="c472"><rect x="432.86" y="718.9" width="9.5" height="51.4" rx="4.75"/></clipPath>
<ellipse cx="437.61" cy="753.6" rx="6.6" ry="6.05" fill="#FF2E00" clip-path="url(#c472)"/>
<ellipse cx="437.61" cy="753.6" rx="5.7" ry="5.15" fill="#fff"/>
<line x1="451.07" y1="722.8" x2="451.07" y2="765" stroke="#FF2E00" stroke-width="4.4" stroke-linecap="round"/>
<line x1="451.07" y1="722.8" x2="451.07" y2="765" stroke="#FF4500" stroke-width="3.08" stroke-linecap="round"/>
<circle cx="451.07" cy="752.8" r="6" fill="none" stroke="#FF4500" stroke-width="1.2"/>
<line x1="464.53" y1="781.1" x2="464.53" y2="789.4" stroke="#FF2E00" stroke-width="4.4" stroke-linecap="round"/>
<line x1="464.53" y1="781.1" x2="464.53" y2="789.4" stroke="#FF4500" stroke-width="3.08" stroke-linecap="round"/>
<rect x="458.38" y="782.35" width="12.3" height="12.3" fill="none" stroke="#FF4500" stroke-width="1.15" stroke-linejoin="round"/>
<line x1="477.99" y1="764.4" x2="477.99" y2="770.2" stroke="#FF2E00" stroke-width="4.4" stroke-linecap="round"/>
<line x1="477.99" y1="764.4" x2="477.99" y2="770.2" stroke="#FF4500" stroke-width="3.08" stroke-linecap="round"/>
<path d="M471.74 758.85L484.24 771.35M471.74 771.35L484.24 758.85" stroke="#FF4500" stroke-width="1.4" fill="none"/>
<line x1="504.91" y1="681.05" x2="504.91" y2="742.65" stroke="#8F05F0" stroke-width="9.5" stroke-linecap="round"/>
<line x1="504.91" y1="681.05" x2="504.91" y2="742.65" stroke="#A020F0" stroke-width="7.3" stroke-linecap="round"/>
<clipPath id="c486"><rect x="500.16" y="676.3" width="9.5" height="71.1" rx="4.75"/></clipPath>
<ellipse cx="504.91" cy="714.2" rx="6.6" ry="6.05" fill="#8F05F0" clip-path="url(#c486)"/>
<ellipse cx="504.91" cy="714.2" rx="5.7" ry="5.15" fill="#fff"/>
<line x1="518.36" y1="688.1" x2="518.36" y2="758.5" stroke="#8F05F0" stroke-width="4.4" stroke-linecap="round"/>
<line x1="518.36" y1="688.1" x2="518.36" y2="758.5" stroke="#A020F0" stroke-width="3.08" stroke-linecap="round"/>
<circle cx="518.36" cy="738.8" r="6" fill="none" stroke="#A020F0" stroke-width="1.2"/>
<line x1="531.82" y1="753.3" x2="531.82" y2="764.9" stroke="#8F05F0" stroke-width="4.4" stroke-linecap="round"/>
<line x1="531.82" y1="753.3" x2="531.82" y2="764.9" stroke="#A020F0" stroke-width="3.08" stroke-linecap="round"/>
<rect x="525.67" y="747.85" width="12.3" height="12.3" fill="none" stroke="#A020F0" stroke-width="1.15" stroke-linejoin="round"/>
<line x1="545.28" y1="760.7" x2="545.28" y2="768.6" stroke="#8F05F0" stroke-width="4.4" stroke-linecap="round"/>
<line x1="545.28" y1="760.7" x2="545.28" y2="768.6" stroke="#A020F0" stroke-width="3.08" stroke-linecap="round"/>
<path d="M539.03 756.15L551.53 768.65M539.03 768.65L551.53 756.15" stroke="#A020F0" stroke-width="1.4" fill="none"/>
</svg>
</body></html>
